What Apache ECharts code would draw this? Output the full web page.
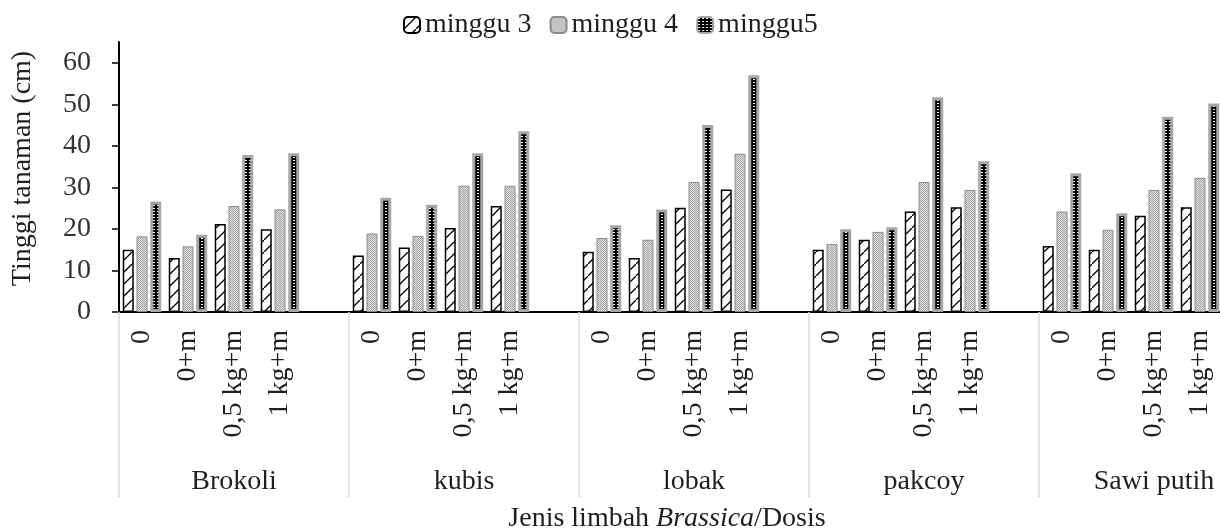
<!DOCTYPE html>
<html><head><meta charset="utf-8">
<script src="https://cdn.jsdelivr.net/npm/echarts@6/dist/echarts.min.js"></script>
<style>html,body{margin:0;padding:0;background:#fff;overflow:hidden;width:1220px;height:529px}#c{width:1290px;height:529px}</style>
</head><body><div id="c"></div>
<script>
const groups = ['Brokoli', 'kubis', 'lobak', 'pakcoy', 'Sawi putih'];
const doses = ['0', '0+m', '0,5 kg+m', '1 kg+m'];
const seriesNames = ['minggu 3', 'minggu 4', 'minggu5'];
const minggu3 = [15.0, 13.0, 21.2, 19.9, 13.6, 15.5, 20.2, 25.5, 14.5, 13.0, 25.1, 29.5, 15.0, 17.4, 24.2, 25.2, 15.9, 15.0, 23.2, 25.2];
const minggu4 = [18.2, 15.8, 25.5, 24.7, 18.9, 18.3, 30.4, 30.4, 17.8, 17.4, 31.3, 38.1, 16.4, 19.3, 31.3, 29.4, 24.2, 19.8, 29.4, 32.3];
const minggu5 = [26.6, 18.6, 37.8, 38.2, 27.5, 25.8, 38.2, 43.5, 20.9, 24.7, 45.0, 57.0, 19.9, 20.4, 51.7, 36.3, 33.4, 23.8, 47.0, 50.2];
const yTicks = [0, 10, 20, 30, 40, 50, 60];

// build 25 slots: 4 doses + 1 empty slot per group
const catKeys = [], catLabels = [];
groups.forEach(g => { doses.concat(['']).forEach((d, j) => { catKeys.push(g + '|' + j); catLabels.push(d); }); });
function spread(vals) {
  const out = [];
  groups.forEach((g, gi) => { for (let j = 0; j < 4; j++) out.push(vals[gi * 4 + j]); out.push('-'); });
  return out;
}

function mk(w, h, draw) { const c = document.createElement('canvas'); c.width = w; c.height = h; draw(c.getContext('2d')); return c; }
const p3 = mk(12, 12, g => { g.fillStyle = '#fff'; g.fillRect(0, 0, 12, 12); g.strokeStyle = '#000'; g.lineWidth = 1.3; g.beginPath(); g.moveTo(-1, 13); g.lineTo(13, -1); g.stroke(); });
const p4 = mk(2, 2, g => { g.fillStyle = '#e6e6e6'; g.fillRect(0, 0, 2, 2); g.fillStyle = '#a0a0a0'; g.fillRect(0, 0, 1, 1); g.fillRect(1, 1, 1, 1); });
const p5 = mk(4, 3, g => { g.fillStyle = '#000'; g.fillRect(0, 0, 4, 3); g.fillStyle = '#fff'; g.fillRect(1, 1, 2, 1); });

const FONT = 'Liberation Serif';
const TXT = '#1f1f1f';
const chart = echarts.init(document.getElementById('c'), null, { renderer: 'canvas' });
chart.setOption({
  animation: false,
  textStyle: { fontFamily: FONT },
  legend: {
    left: 403, top: 11, padding: 0, itemWidth: 16, itemHeight: 16, itemGap: 18,
    textStyle: { fontFamily: FONT, fontSize: 28, color: TXT },
    data: seriesNames
  },
  grid: { left: 119, top: 42, width: 1150, height: 270, containLabel: false, outerBoundsMode: 'none' },
  xAxis: [{
    type: 'category', data: catKeys,
    axisLine: { show: true, lineStyle: { color: '#000', width: 2 } },
    axisTick: { show: true, interval: (i) => i % 5 === 0, length: 185, lineStyle: { color: '#d9d9d9', width: 1.5 } },
    axisLabel: { interval: 0, rotate: 90, margin: 18, fontFamily: FONT, fontSize: 28, color: TXT, formatter: (v, i) => catLabels[i] },
    splitLine: { show: false },
    name: '{a|Jenis limbah }{b|Brassica}{a|/Dosis}', nameLocation: 'middle', nameGap: 193,
    nameTextStyle: { padding: [0, 54, 0, 0], rich: { a: { fontFamily: FONT, fontSize: 28, color: TXT }, b: { fontFamily: FONT, fontSize: 28, fontStyle: 'italic', color: TXT } } }
  }, {
    type: 'category', data: groups, position: 'bottom',
    axisLine: { show: false }, axisTick: { show: false }, splitLine: { show: false },
    axisLabel: { interval: 0, margin: 156, fontFamily: FONT, fontSize: 28, color: TXT }
  }],
  yAxis: {
    type: 'value', min: 0, max: 65, interval: 10,
    axisLine: { show: true, lineStyle: { color: '#000', width: 2 } },
    axisTick: { show: true, length: 7, customValues: yTicks, lineStyle: { color: '#000', width: 1.5 } },
    axisLabel: { customValues: yTicks, margin: 28, fontFamily: FONT, fontSize: 28, color: '#333' },
    splitLine: { show: false },
    name: 'Tinggi tanaman (cm)', nameLocation: 'middle', nameGap: 82,
    nameTextStyle: { fontFamily: FONT, fontSize: 28, color: TXT, padding: [0, 0, 0, 17] }
  },
  series: [
    { name: seriesNames[0], type: 'bar', data: spread(minggu3), barWidth: 11, barGap: '25%',
      itemStyle: { color: { image: p3, repeat: 'repeat' }, borderColor: '#000', borderWidth: 1.5 } },
    { name: seriesNames[1], type: 'bar', data: spread(minggu4), barWidth: 11, barGap: '25%',
      itemStyle: { color: { image: p4, repeat: 'repeat' }, borderColor: '#8c8c8c', borderWidth: 1 } },
    { name: seriesNames[2], type: 'bar', data: spread(minggu5), barWidth: 11, barGap: '25%',
      itemStyle: { color: { image: p5, repeat: 'repeat' }, borderColor: '#a6a6a6', borderWidth: 3 } }
  ]
});
</script></body></html>
